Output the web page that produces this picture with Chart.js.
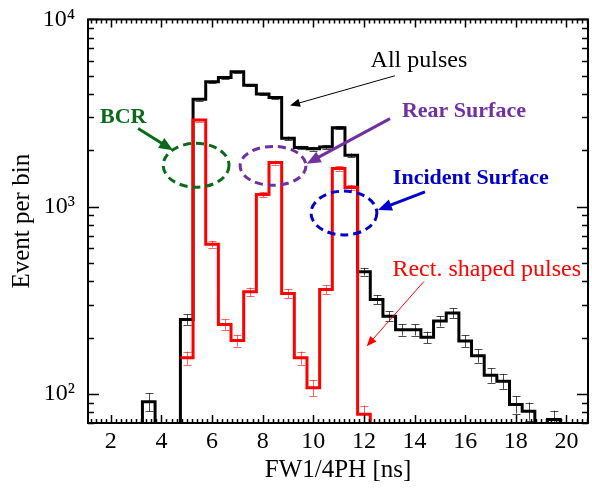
<!DOCTYPE html>
<html><head><meta charset="utf-8">
<script src="https://cdn.jsdelivr.net/npm/chart.js@4/dist/chart.umd.min.js"></script>
<style>html,body{margin:0;padding:0;background:#fff}</style>
</head><body>
<canvas id="c" width="592" height="493"></canvas>
<script>
// ---- data ----
const binWidth = 0.5;
const allCenters = [3.0,3.5,4.0,4.5,5.0,5.5,6.0,6.5,7.0,7.5,8.0,8.5,9.0,9.5,10.0,10.5,11.0,11.5,12.0,12.5,13.0,13.5,14.0,14.5,15.0,15.5,16.0,16.5,17.0,17.5,18.0,18.5,19.0,19.5,20.0];
const allCounts  = [0,91,0,0,250,3750,4650,4900,5250,4450,4000,3830,2320,2070,2040,2080,2640,1880,450,320,260,220,220,201,245,271,192,160,126,117,88,81,0,73,0];
const allErrors  = [0,10,0,0,16,61,68,70,72,67,63,62,48,45,45,46,51,43,21,18,16,15,15,14,16,16,14,13,11,11,9.4,9,0,8.5,0];
const rectCenters = [5.0,5.5,6.0,6.5,7.0,7.5,8.0,8.5,9.0,9.5,10.0,10.5,11.0,11.5,12.0];
const rectCounts  = [156,2900,630,235,193,351,1160,1720,344,156,108,361,1600,1265,78];
const rectErrors  = [12.5,54,25,15,14,19,34,41,18.5,12.5,10.4,19,40,35.6,8.8];
const xTickValues = [2,4,6,8,10,12,14,16,18,20];
const yTickValues = [100,1000,10000];
const xMin = 1.1, xMax = 20.85, yMin = 70, yMax = 10000;

// annotations, anchored in data coordinates (ns, counts)
const labels = [
  {text:'All pulses', x:14.17, y:6000, color:'#000', font:'24px "Liberation Serif"'},
  {text:'BCR', x:2.49, y:2990, color:'#0a6a1a', font:'bold 22px "Liberation Serif"'},
  {text:'Rear Surface', x:15.95, y:3220, color:'#7030a0', font:'bold 22px "Liberation Serif"'},
  {text:'Incident Surface', x:16.22, y:1419, color:'#0000cc', font:'bold 22px "Liberation Serif"'},
  {text:'Rect. shaped pulses', x:16.85, y:460, color:'#ff0000', font:'24px "Liberation Serif"'}
];
const ellipses = [
  {x:5.37, y:1664, hw:1.30, hd:0.117, color:'#0a6a1a'},
  {x:8.41, y:1652, hw:1.30, hd:0.104, color:'#7030a0'},
  {x:11.21, y:925, hw:1.30, hd:0.117, color:'#0000cc'}
];
const arrows = [
  {x0:13.22, y0:5000, x1:9.08, y1:3467, color:'#000', w:1, head:10},
  {x0:3.08, y0:2613, x1:4.46, y1:2000, color:'#0a6a1a', w:3, head:14},
  {x0:13.03, y0:2954, x1:9.74, y1:1698, color:'#7030a0', w:3, head:14},
  {x0:14.41, y0:1200, x1:12.55, y1:960, color:'#0000cc', w:3, head:14},
  {x0:14.37, y0:399, x1:12.11, y1:180, color:'#ff0000', w:1, head:10}
];

const FLOOR = 1;
function stepPoints(centers, counts, leadingFloor) {
  const pts = [];
  const v = c => (c > 0 ? c : FLOOR);
  if (leadingFloor) pts.push({x: centers[0] - binWidth/2, y: FLOOR});
  centers.forEach((c, i) => pts.push({x: c - binWidth/2, y: v(counts[i])}));
  const last = centers[centers.length-1] + binWidth/2;
  pts.push({x: last, y: v(counts[counts.length-1])});
  pts.push({x: last, y: FLOOR});
  return pts;
}

const SERIF = '"Liberation Serif", "DejaVu Serif", serif';
const sup = {2:'\u00B2', 3:'\u00B3', 4:'\u2074'};

const decor = {
  id: 'decor',
  afterDatasetsDraw(chart) {
    const {ctx, chartArea: a, scales: {x, y}} = chart;
    // error bars
    ctx.save();
    ctx.beginPath(); ctx.rect(a.left, a.top, a.right - a.left, a.bottom - a.top); ctx.clip();
    const drawErr = (centers, counts, errs, color) => {
      ctx.strokeStyle = color; ctx.lineWidth = 1;
      centers.forEach((c, i) => {
        if (!(counts[i] > 0) || !(errs[i] > 0)) return;
        const px = Math.round(x.getPixelForValue(c)) + 0.5;
        const y0 = y.getPixelForValue(counts[i] - errs[i]);
        const y1 = y.getPixelForValue(counts[i] + errs[i]);
        ctx.beginPath();
        ctx.moveTo(px, y0); ctx.lineTo(px, y1);
        ctx.moveTo(px - 4, Math.round(y0) + 0.5); ctx.lineTo(px + 4, Math.round(y0) + 0.5);
        ctx.moveTo(px - 4, Math.round(y1) + 0.5); ctx.lineTo(px + 4, Math.round(y1) + 0.5);
        ctx.stroke();
      });
    };
    drawErr(allCenters, allCounts, allErrors, 'rgba(0,0,0,0.7)');
    drawErr(rectCenters, rectCounts, rectErrors, 'rgba(255,0,0,0.6)');
    ctx.restore();

    // ellipses
    ctx.save();
    ctx.setLineDash([8, 5]);
    ctx.lineWidth = 3;
    ellipses.forEach(e => {
      const cx = x.getPixelForValue(e.x), cy = y.getPixelForValue(e.y);
      const rx = Math.abs(x.getPixelForValue(e.x + e.hw) - cx);
      const ry = Math.abs(y.getPixelForValue(e.y * Math.pow(10, e.hd)) - cy);
      ctx.strokeStyle = e.color;
      ctx.beginPath(); ctx.ellipse(cx, cy, rx, ry, 0, 0, Math.PI*2); ctx.stroke();
    });
    ctx.restore();

    // arrows
    ctx.save();
    arrows.forEach(r => {
      const x0 = x.getPixelForValue(r.x0), y0 = y.getPixelForValue(r.y0);
      const x1 = x.getPixelForValue(r.x1), y1 = y.getPixelForValue(r.y1);
      const ang = Math.atan2(y1 - y0, x1 - x0);
      const hw = r.head * 0.42;
      const bx = x1 - r.head * Math.cos(ang), by = y1 - r.head * Math.sin(ang);
      ctx.strokeStyle = r.color; ctx.fillStyle = r.color; ctx.lineWidth = r.w;
      ctx.beginPath(); ctx.moveTo(x0, y0); ctx.lineTo(bx + Math.cos(ang)*2, by + Math.sin(ang)*2); ctx.stroke();
      ctx.beginPath();
      ctx.moveTo(x1, y1);
      ctx.lineTo(bx + hw * Math.sin(ang), by - hw * Math.cos(ang));
      ctx.lineTo(bx - hw * Math.sin(ang), by + hw * Math.cos(ang));
      ctx.closePath(); ctx.fill();
    });
    ctx.restore();

    // labels
    ctx.save();
    ctx.textAlign = 'center'; ctx.textBaseline = 'middle';
    labels.forEach(l => {
      ctx.font = l.font.replace('"Liberation Serif"', SERIF);
      ctx.fillStyle = l.color;
      ctx.fillText(l.text, x.getPixelForValue(l.x), y.getPixelForValue(l.y));
    });
    ctx.restore();

    // frame and inward ticks
    ctx.save();
    ctx.strokeStyle = '#000';
    ctx.lineWidth = 1.5;
    ctx.beginPath();
    for (let k = Math.ceil(xMin / 0.2 - 1e-9); k * 0.2 <= xMax + 1e-9; k++) {
      const v = k * 0.2;
      const major = Math.abs(v / 2 - Math.round(v / 2)) < 1e-6;
      const len = major ? 8 : 4;
      const px = Math.round(x.getPixelForValue(v)) + 0.5;
      ctx.moveTo(px, a.bottom); ctx.lineTo(px, a.bottom - len);
      ctx.moveTo(px, a.top); ctx.lineTo(px, a.top + len);
    }
    for (let d = 10; d <= yMax; d *= 10) {
      for (let m = 1; m <= 9; m++) {
        const v = d * m;
        if (v < yMin || v > yMax) continue;
        const len = m === 1 ? 11 : 6;
        const py = Math.round(y.getPixelForValue(v)) + 0.5;
        ctx.moveTo(a.left, py); ctx.lineTo(a.left + len, py);
        ctx.moveTo(a.right, py); ctx.lineTo(a.right - len, py);
      }
    }
    ctx.stroke();
    ctx.lineWidth = 2;
    ctx.strokeRect(a.left, a.top, a.right - a.left, a.bottom - a.top);
    ctx.restore();
  }
};

new Chart(document.getElementById('c'), {
  type: 'line',
  data: {
    datasets: [
      {label: 'Rect. shaped pulses', data: stepPoints(rectCenters, rectCounts, false),
       borderColor: '#ff0000', borderWidth: 3, pointRadius: 0, stepped: 'before', fill: false},
      {label: 'All pulses', data: stepPoints(allCenters, allCounts, true),
       borderColor: '#000000', borderWidth: 3, pointRadius: 0, stepped: 'before', fill: false}
    ]
  },
  options: {
    responsive: false, animation: false, devicePixelRatio: 1,
    layout: {padding: {top: 14, right: 4, left: 0, bottom: 0}},
    plugins: {legend: {display: false}, tooltip: {enabled: false}},
    scales: {
      x: {
        type: 'linear', min: xMin, max: xMax,
        grid: {display: false}, border: {display: false},
        afterBuildTicks: s => { s.ticks = xTickValues.map(v => ({value: v})); },
        afterFit: s => { s.height = 70; },
        ticks: {color: '#000', font: {family: SERIF, size: 24}, padding: -4, maxRotation: 0, autoSkip: false},
        title: {display: true, text: 'FW1/4PH [ns]', color: '#000', font: {family: SERIF, size: 25}, padding: {top: 0, bottom: 8}}
      },
      y: {
        type: 'logarithmic', min: yMin, max: yMax,
        grid: {display: false}, border: {display: false},
        afterBuildTicks: s => { s.ticks = yTickValues.map(v => ({value: v})); },
        afterFit: s => { s.width = 88; },
        ticks: {color: '#000', font: {family: SERIF, size: 24}, padding: 5, autoSkip: false,
                callback: v => '10' + (sup[Math.round(Math.log10(v))] || '')},
        title: {display: true, text: 'Event per bin', color: '#000', font: {family: SERIF, size: 25}, padding: {top: 7, bottom: 0}}
      }
    }
  },
  plugins: [decor]
});
</script>
</body></html>
